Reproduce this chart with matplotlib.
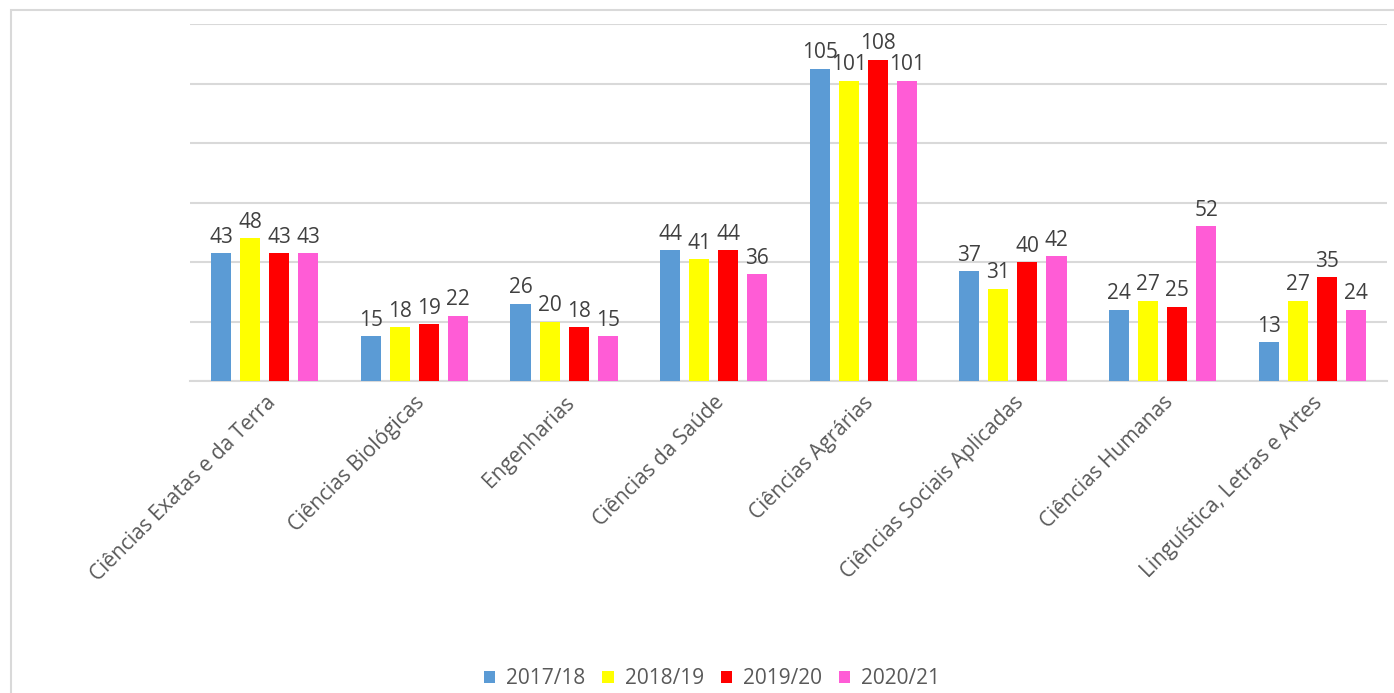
import matplotlib
matplotlib.use("Agg")
import matplotlib.pyplot as plt
import numpy as np
from matplotlib.patches import Rectangle

categories = ["Ciências Exatas e da Terra", "Ciências Biológicas", "Engenharias",
              "Ciências da Saúde", "Ciências Agrárias", "Ciências Sociais Aplicadas",
              "Ciências Humanas", "Linguística, Letras e Artes"]
series_names = ["2017/18", "2018/19", "2019/20", "2020/21"]
v2017 = [43, 15, 26, 44, 105, 37, 24, 13]
v2018 = [48, 18, 20, 41, 101, 31, 27, 27]
v2019 = [43, 19, 18, 44, 108, 40, 25, 35]
v2020 = [43, 22, 15, 36, 101, 42, 52, 24]
colors = ["#5B9BD5", "#FFFF00", "#FF0000", "#FF5CD6"]

plt.rcParams['font.family'] = ['Open Sans', 'DejaVu Sans']

W, H = 1394, 693
fig = plt.figure(figsize=(W/100, H/100), dpi=100)
fig.patches.append(Rectangle((11/W, -0.1), 1.2, 1 - 10/H + 0.1, transform=fig.transFigure,
                             fill=False, edgecolor="#D9D9D9", linewidth=1.5))
ax = fig.add_axes([190/W, 1 - 381/H, (1387-190)/W, (381-24)/H])

x = np.arange(len(categories))
step = 0.194
width = 0.134
all_vals = [v2017, v2018, v2019, v2020]
for i, (vals, c, name) in enumerate(zip(all_vals, colors, series_names)):
    pos = x + (i - 1.5) * step
    ax.bar(pos, vals, width=width, color=c, label=name, zorder=3)
    for p, v in zip(pos, vals):
        ax.text(p, v + 1.8, str(v), ha="center", va="bottom", fontsize=15, color="#404040")

ax.set_xlim(-0.5, len(categories) - 0.5)
ax.set_ylim(0, 120)
ax.set_yticks(np.arange(0, 121, 20))
ax.yaxis.grid(True, color="#D9D9D9", linewidth=1.5, zorder=0)
ax.tick_params(axis="y", left=False, labelleft=False)
ax.tick_params(axis="x", length=0, pad=8)
ax.set_xticks(x)
ax.set_xticklabels(categories, rotation=45, ha="right", rotation_mode="anchor",
                   fontsize=15, color="#595959")
for s in ["top", "right", "left"]:
    ax.spines[s].set_visible(False)
ax.spines["bottom"].set_color("#D9D9D9")
ax.spines["bottom"].set_linewidth(1.5)

fig.legend(loc="center", bbox_to_anchor=(712/W, 1 - 679/H), ncol=4, frameon=False,
           fontsize=15, handlelength=0.55, handleheight=0.55, handletextpad=0.53,
           columnspacing=0.8, labelcolor="#595959")

fig.savefig("out.png", dpi=100)
